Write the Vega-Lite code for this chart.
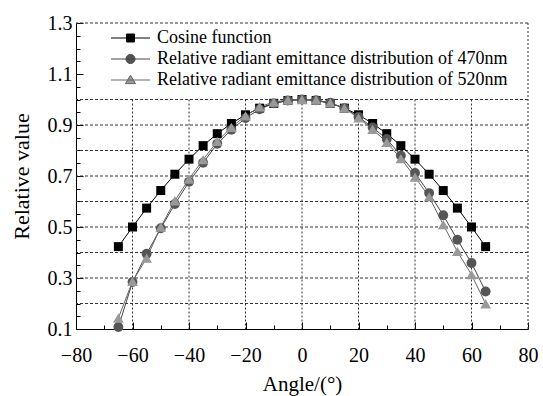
{
  "$schema": "https://vega.github.io/schema/vega-lite/v6.json",
  "width": 452,
  "height": 306,
  "autosize": {"type": "none"},
  "padding": {"left": 76, "top": 23, "right": 15, "bottom": 67},
  "background": "white",
  "config": {"font": "Liberation Serif", "view": {"stroke": null}},
  "datasets": {
    "hgrid": [{"g": 0.2}, {"g": 0.3}, {"g": 0.4}, {"g": 0.5}, {"g": 0.6}, {"g": 0.7}, {"g": 0.8}, {"g": 0.9}, {"g": 1.0}, {"g": 1.3}],
    "vgrid": [{"g": -60, "top": 1.0}, {"g": -40, "top": 1.0}, {"g": -20, "top": 1.0}, {"g": 0, "top": 1.0}, {"g": 20, "top": 1.0}, {"g": 40, "top": 1.0}, {"g": 60, "top": 1.0}, {"g": 80, "top": 1.3}],
    "main": [
      {"series": "Cosine function", "angle": -65, "value": 0.423},
      {"series": "Cosine function", "angle": -60, "value": 0.5},
      {"series": "Cosine function", "angle": -55, "value": 0.574},
      {"series": "Cosine function", "angle": -50, "value": 0.643},
      {"series": "Cosine function", "angle": -45, "value": 0.707},
      {"series": "Cosine function", "angle": -40, "value": 0.766},
      {"series": "Cosine function", "angle": -35, "value": 0.819},
      {"series": "Cosine function", "angle": -30, "value": 0.866},
      {"series": "Cosine function", "angle": -25, "value": 0.906},
      {"series": "Cosine function", "angle": -20, "value": 0.94},
      {"series": "Cosine function", "angle": -15, "value": 0.966},
      {"series": "Cosine function", "angle": -10, "value": 0.985},
      {"series": "Cosine function", "angle": -5, "value": 0.996},
      {"series": "Cosine function", "angle": 0, "value": 1.0},
      {"series": "Cosine function", "angle": 5, "value": 0.996},
      {"series": "Cosine function", "angle": 10, "value": 0.985},
      {"series": "Cosine function", "angle": 15, "value": 0.966},
      {"series": "Cosine function", "angle": 20, "value": 0.94},
      {"series": "Cosine function", "angle": 25, "value": 0.906},
      {"series": "Cosine function", "angle": 30, "value": 0.866},
      {"series": "Cosine function", "angle": 35, "value": 0.819},
      {"series": "Cosine function", "angle": 40, "value": 0.766},
      {"series": "Cosine function", "angle": 45, "value": 0.707},
      {"series": "Cosine function", "angle": 50, "value": 0.643},
      {"series": "Cosine function", "angle": 55, "value": 0.574},
      {"series": "Cosine function", "angle": 60, "value": 0.5},
      {"series": "Cosine function", "angle": 65, "value": 0.423},
      {"series": "Relative radiant emittance distribution of 470nm", "angle": -65, "value": 0.108},
      {"series": "Relative radiant emittance distribution of 470nm", "angle": -60, "value": 0.284},
      {"series": "Relative radiant emittance distribution of 470nm", "angle": -55, "value": 0.395},
      {"series": "Relative radiant emittance distribution of 470nm", "angle": -50, "value": 0.495},
      {"series": "Relative radiant emittance distribution of 470nm", "angle": -45, "value": 0.59},
      {"series": "Relative radiant emittance distribution of 470nm", "angle": -40, "value": 0.677},
      {"series": "Relative radiant emittance distribution of 470nm", "angle": -35, "value": 0.752},
      {"series": "Relative radiant emittance distribution of 470nm", "angle": -30, "value": 0.826},
      {"series": "Relative radiant emittance distribution of 470nm", "angle": -25, "value": 0.881},
      {"series": "Relative radiant emittance distribution of 470nm", "angle": -20, "value": 0.927},
      {"series": "Relative radiant emittance distribution of 470nm", "angle": -15, "value": 0.962},
      {"series": "Relative radiant emittance distribution of 470nm", "angle": -10, "value": 0.985},
      {"series": "Relative radiant emittance distribution of 470nm", "angle": -5, "value": 0.996},
      {"series": "Relative radiant emittance distribution of 470nm", "angle": 0, "value": 1.0},
      {"series": "Relative radiant emittance distribution of 470nm", "angle": 5, "value": 0.997},
      {"series": "Relative radiant emittance distribution of 470nm", "angle": 10, "value": 0.987},
      {"series": "Relative radiant emittance distribution of 470nm", "angle": 15, "value": 0.966},
      {"series": "Relative radiant emittance distribution of 470nm", "angle": 20, "value": 0.932},
      {"series": "Relative radiant emittance distribution of 470nm", "angle": 25, "value": 0.89},
      {"series": "Relative radiant emittance distribution of 470nm", "angle": 30, "value": 0.845},
      {"series": "Relative radiant emittance distribution of 470nm", "angle": 35, "value": 0.78},
      {"series": "Relative radiant emittance distribution of 470nm", "angle": 40, "value": 0.712},
      {"series": "Relative radiant emittance distribution of 470nm", "angle": 45, "value": 0.633},
      {"series": "Relative radiant emittance distribution of 470nm", "angle": 50, "value": 0.546},
      {"series": "Relative radiant emittance distribution of 470nm", "angle": 55, "value": 0.45},
      {"series": "Relative radiant emittance distribution of 470nm", "angle": 60, "value": 0.359},
      {"series": "Relative radiant emittance distribution of 470nm", "angle": 65, "value": 0.247},
      {"series": "Relative radiant emittance distribution of 520nm", "angle": -65, "value": 0.143},
      {"series": "Relative radiant emittance distribution of 520nm", "angle": -60, "value": 0.287},
      {"series": "Relative radiant emittance distribution of 520nm", "angle": -55, "value": 0.378},
      {"series": "Relative radiant emittance distribution of 520nm", "angle": -50, "value": 0.5},
      {"series": "Relative radiant emittance distribution of 520nm", "angle": -45, "value": 0.603},
      {"series": "Relative radiant emittance distribution of 520nm", "angle": -40, "value": 0.688},
      {"series": "Relative radiant emittance distribution of 520nm", "angle": -35, "value": 0.764},
      {"series": "Relative radiant emittance distribution of 520nm", "angle": -30, "value": 0.836},
      {"series": "Relative radiant emittance distribution of 520nm", "angle": -25, "value": 0.891},
      {"series": "Relative radiant emittance distribution of 520nm", "angle": -20, "value": 0.936},
      {"series": "Relative radiant emittance distribution of 520nm", "angle": -15, "value": 0.971},
      {"series": "Relative radiant emittance distribution of 520nm", "angle": -10, "value": 0.99},
      {"series": "Relative radiant emittance distribution of 520nm", "angle": -5, "value": 0.998},
      {"series": "Relative radiant emittance distribution of 520nm", "angle": 0, "value": 1.0},
      {"series": "Relative radiant emittance distribution of 520nm", "angle": 5, "value": 0.998},
      {"series": "Relative radiant emittance distribution of 520nm", "angle": 10, "value": 0.987},
      {"series": "Relative radiant emittance distribution of 520nm", "angle": 15, "value": 0.966},
      {"series": "Relative radiant emittance distribution of 520nm", "angle": 20, "value": 0.928},
      {"series": "Relative radiant emittance distribution of 520nm", "angle": 25, "value": 0.883},
      {"series": "Relative radiant emittance distribution of 520nm", "angle": 30, "value": 0.832},
      {"series": "Relative radiant emittance distribution of 520nm", "angle": 35, "value": 0.768},
      {"series": "Relative radiant emittance distribution of 520nm", "angle": 40, "value": 0.696},
      {"series": "Relative radiant emittance distribution of 520nm", "angle": 45, "value": 0.618},
      {"series": "Relative radiant emittance distribution of 520nm", "angle": 50, "value": 0.509},
      {"series": "Relative radiant emittance distribution of 520nm", "angle": 55, "value": 0.404},
      {"series": "Relative radiant emittance distribution of 520nm", "angle": 60, "value": 0.313},
      {"series": "Relative radiant emittance distribution of 520nm", "angle": 65, "value": 0.199}
    ]
  },
  "layer": [
    {
      "data": {"name": "hgrid"},
      "mark": {"type": "rule", "stroke": "#333333", "strokeDash": [3, 2], "strokeWidth": 1},
      "encoding": {
        "y": {"field": "g", "type": "quantitative", "scale": {"domain": [0.1, 1.3], "nice": false, "zero": false}, "axis": null}
      }
    },
    {
      "data": {"name": "vgrid"},
      "mark": {"type": "rule", "stroke": "#333333", "strokeDash": [2, 2], "strokeWidth": 1},
      "encoding": {
        "x": {"field": "g", "type": "quantitative", "scale": {"domain": [-80, 80], "nice": false, "zero": false}, "axis": null},
        "y": {"field": "top", "type": "quantitative", "scale": {"domain": [0.1, 1.3], "nice": false, "zero": false}, "axis": null},
        "y2": {"datum": 0.1}
      }
    },
    {
      "data": {"name": "main"},
      "mark": {"type": "line", "strokeWidth": 1},
      "encoding": {
        "x": {"field": "angle", "type": "quantitative", "scale": {"domain": [-80, 80], "nice": false, "zero": false},
          "axis": {"orient": "bottom", "values": [-80, -60, -40, -20, 0, 20, 40, 60, 80], "tickSize": -7, "tickColor": "black", "domainColor": "black", "grid": false,
            "labelPadding": 23, "labelFontSize": 20, "labelColor": "black", "labelFont": "Liberation Serif", "labelFlush": false, "labelOverlap": false,
            "title": "Angle/(°)", "titleFontSize": 21, "titleFont": "Liberation Serif", "titleFontWeight": "normal", "titleColor": "black", "titlePadding": 8}},
        "y": {"field": "value", "type": "quantitative", "scale": {"domain": [0.1, 1.3], "nice": false, "zero": false},
          "axis": {"orient": "left", "values": [0.1, 0.3, 0.5, 0.7, 0.9, 1.1, 1.3], "format": ".1f", "tickSize": -7, "tickColor": "black", "domainColor": "black", "grid": false,
            "labelPadding": 11, "labelFontSize": 20, "labelColor": "black", "labelFont": "Liberation Serif", "labelFlush": false, "labelOverlap": false,
            "title": "Relative value", "titleFontSize": 22, "titleFont": "Liberation Serif", "titleFontWeight": "normal", "titleColor": "black", "titlePadding": 14}},
        "stroke": {"field": "series", "type": "nominal",
          "scale": {"domain": ["Cosine function", "Relative radiant emittance distribution of 470nm", "Relative radiant emittance distribution of 520nm"], "range": ["#000000", "#444444", "#666666"]},
          "legend": {"orient": "none", "legendX": 34, "legendY": 6, "title": null, "padding": 0, "direction": "vertical",
            "symbolSize": 256, "symbolStrokeWidth": 1, "symbolOpacity": 1,
            "symbolType": {"expr": "datum.value === 'Relative radiant emittance distribution of 470nm' ? 'M-1,0H3.875M2,0A0.5625,0.5625 0 1,1 0.875,0A0.5625,0.5625 0 1,1 2,0Z' : datum.value === 'Relative radiant emittance distribution of 520nm' ? 'M-1,0H3.875M1.4375,-0.6L2.0625,0.45L0.8125,0.45Z' : 'M-1,0H3.875M0.9375,-0.5H1.9375V0.5H0.9375Z'"},
            "symbolFillColor": {"expr": "datum.value === 'Relative radiant emittance distribution of 470nm' ? '#555555' : datum.value === 'Relative radiant emittance distribution of 520nm' ? '#999999' : '#000000'"},
            "labelFont": "Liberation Serif", "labelFontSize": 18, "labelColor": "black", "labelOffset": 29, "rowPadding": 3, "labelLimit": 0}}
      }
    },
    {
      "data": {"name": "main"},
      "mark": {"type": "point", "filled": true, "opacity": 1},
      "encoding": {
        "x": {"field": "angle", "type": "quantitative", "scale": {"domain": [-80, 80], "nice": false, "zero": false},
          "axis": {"orient": "bottom", "values": [-70, -50, -30, -10, 10, 30, 50, 70], "tickSize": -4, "tickColor": "black", "labels": false, "domain": false, "grid": false, "title": null}},
        "y": {"field": "value", "type": "quantitative", "scale": {"domain": [0.1, 1.3], "nice": false, "zero": false},
          "axis": {"orient": "left", "values": [0.15, 0.2, 0.25, 0.35, 0.4, 0.45, 0.55, 0.6, 0.65, 0.75, 0.8, 0.85, 0.95, 1.0, 1.05, 1.15, 1.2, 1.25], "tickSize": -4, "tickColor": "black", "labels": false, "domain": false, "grid": false, "title": null}},
        "fill": {"field": "series", "type": "nominal",
          "scale": {"domain": ["Relative radiant emittance distribution of 470nm", "Relative radiant emittance distribution of 520nm", "Cosine function"], "range": ["#555555", "#999999", "#000000"]},
          "legend": null},
        "shape": {"field": "series", "type": "nominal",
          "scale": {"domain": ["Relative radiant emittance distribution of 520nm", "Cosine function", "Relative radiant emittance distribution of 470nm"], "range": ["triangle-up", "square", "circle"]},
          "legend": null},
        "size": {"field": "series", "type": "nominal",
          "scale": {"domain": ["Relative radiant emittance distribution of 520nm", "Relative radiant emittance distribution of 470nm", "Cosine function"], "range": [115, 81, 69]},
          "legend": null}
      }
    }
  ],
  "resolve": {"axis": {"x": "independent", "y": "independent"}}
}
